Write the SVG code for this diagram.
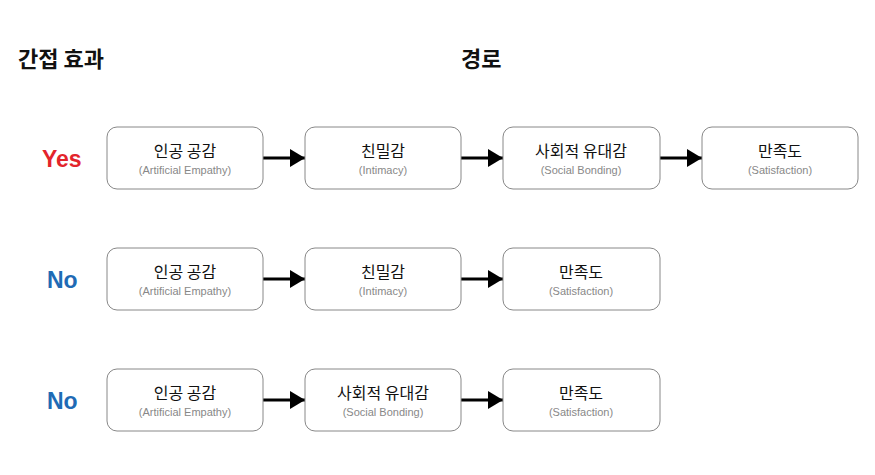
<svg xmlns="http://www.w3.org/2000/svg" width="875" height="475" viewBox="0 0 875 475">
<defs>
<marker id="ah" markerWidth="5" markerHeight="6" refX="5" refY="3" orient="auto" markerUnits="strokeWidth"><path d="M0,0 L5,3 L0,6 Z" fill="#000"/></marker>
<style>
text{font-family:"Noto Sans CJK KR","Noto Sans",sans-serif}
.box{fill:#fff;stroke:#888;stroke-width:1}
.t{font-size:16px;fill:#111;text-anchor:middle}
.s{font-size:11px;fill:#888;text-anchor:middle;font-family:"Liberation Sans",sans-serif}
.h{font-size:22px;font-weight:bold;fill:#111}
.y{font-size:23px;font-weight:bold;fill:#e3242b;font-family:"Liberation Sans",sans-serif}
.n{font-size:23px;font-weight:bold;fill:#1f6bb5;font-family:"Liberation Sans",sans-serif}
.c{stroke:#000;stroke-width:3;fill:none;marker-end:url(#ah)}
</style>
</defs>
<rect width="875" height="475" fill="#fff"/>
<text class="h" x="18" y="67">간접 효과</text>
<text class="h" x="461" y="67">경로</text>
<text class="y" x="42" y="167">Yes</text>
<text class="n" x="47" y="288">No</text>
<text class="n" x="47" y="409">No</text>
<g id="connectors">
<line class="c" x1="263" y1="158" x2="305" y2="158"/>
<line class="c" x1="461" y1="158" x2="503" y2="158"/>
<line class="c" x1="660" y1="158" x2="702" y2="158"/>
<line class="c" x1="263" y1="279" x2="305" y2="279"/>
<line class="c" x1="461" y1="279" x2="503" y2="279"/>
<line class="c" x1="263" y1="400" x2="305" y2="400"/>
<line class="c" x1="461" y1="400" x2="503" y2="400"/>
</g>
<g id="n1"><rect class="box" x="107" y="127" width="156" height="62" rx="10"/><text class="t" x="185" y="157">인공 공감</text><text class="s" x="185" y="174">(Artificial Empathy)</text></g>
<g id="n2"><rect class="box" x="305" y="127" width="156" height="62" rx="10"/><text class="t" x="383" y="157">친밀감</text><text class="s" x="383" y="174">(Intimacy)</text></g>
<g id="n3"><rect class="box" x="503" y="127" width="157" height="62" rx="10"/><text class="t" x="581" y="157">사회적 유대감</text><text class="s" x="581" y="174">(Social Bonding)</text></g>
<g id="n4"><rect class="box" x="702" y="127" width="156" height="62" rx="10"/><text class="t" x="780" y="157">만족도</text><text class="s" x="780" y="174">(Satisfaction)</text></g>
<g id="n5"><rect class="box" x="107" y="248" width="156" height="62" rx="10"/><text class="t" x="185" y="278">인공 공감</text><text class="s" x="185" y="295">(Artificial Empathy)</text></g>
<g id="n6"><rect class="box" x="305" y="248" width="156" height="62" rx="10"/><text class="t" x="383" y="278">친밀감</text><text class="s" x="383" y="295">(Intimacy)</text></g>
<g id="n7"><rect class="box" x="503" y="248" width="157" height="62" rx="10"/><text class="t" x="581" y="278">만족도</text><text class="s" x="581" y="295">(Satisfaction)</text></g>
<g id="n8"><rect class="box" x="107" y="369" width="156" height="62" rx="10"/><text class="t" x="185" y="399">인공 공감</text><text class="s" x="185" y="416">(Artificial Empathy)</text></g>
<g id="n9"><rect class="box" x="305" y="369" width="156" height="62" rx="10"/><text class="t" x="383" y="399">사회적 유대감</text><text class="s" x="383" y="416">(Social Bonding)</text></g>
<g id="n10"><rect class="box" x="503" y="369" width="157" height="62" rx="10"/><text class="t" x="581" y="399">만족도</text><text class="s" x="581" y="416">(Satisfaction)</text></g>
</svg>
